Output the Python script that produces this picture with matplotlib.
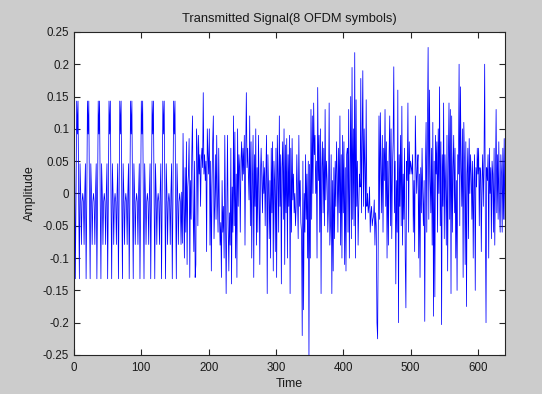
import numpy as np
import matplotlib
matplotlib.use("Agg")
import matplotlib.pyplot as plt

plt.rcParams['font.family'] = ['Liberation Sans', 'DejaVu Sans']

# Preamble: 2 symbols (160 samples), 16-sample repeating pattern
sts_block = [0.046, -0.132, -0.013, 0.143, 0.092, 0.143, -0.013, -0.132,
             0.046, 0.002, -0.079, -0.013, 0.000, -0.013, -0.079, 0.002]
preamble = sts_block * 10

# Data symbols (80 samples each)
sym3 = [-0.077, 0.093, -0.02, -0.1, 0.04, -0.06, 0.08, -0.11, 0.01, 0.03,
        0.085, -0.13, 0.02, -0.04, 0.06, 0.12, -0.03, -0.09, 0.05, -0.13,
        -0.11, 0.1, 0.07, -0.05, 0.09, 0.03, 0.06, -0.02, 0.05, 0.07,
        0.04, 0.156, 0.03, 0.06, 0.02, 0.05, -0.09, 0.1, 0.06, 0.03,
        0.1, -0.08, 0.05, -0.12, 0.01, 0.08, 0.12, -0.07, -0.02, 0.06,
        -0.04, 0.09, -0.01, -0.06, 0.07, -0.03, -0.08, -0.045, -0.13, 0.02,
        -0.06, -0.02, -0.1, 0.09, -0.04, -0.155, -0.03, 0.09, -0.05, -0.12,
        -0.03, -0.08, 0.07, -0.14, 0.01, -0.06, 0.12, -0.05, 0.095, -0.1]
sym4 = [0.03, -0.13, 0.1, -0.02, 0.06, 0.04, -0.06, 0.05, 0.08, 0.02,
        0.07, 0.03, 0.09, -0.08, 0.06, 0.156, 0.04, 0.07, 0.03, -0.01,
        0.12, -0.05, 0.08, -0.1, 0.02, 0.09, -0.13, 0.06, -0.02, 0.1,
        -0.08, 0.04, -0.06, 0.09, 0.01, -0.11, 0.03, 0.07, 0.02, -0.03,
        0.05, 0.0, 0.04, -0.05, 0.03, 0.09, -0.155, 0.06, 0.01, -0.07,
        0.02, -0.1, 0.07, -0.03, 0.08, -0.12, 0.05, 0.02, -0.09, 0.07,
        -0.13, 0.09, 0.03, -0.06, 0.12, -0.02, 0.06, -0.14, 0.04, 0.08,
        -0.04, 0.1, -0.11, 0.075, -0.03, 0.085, -0.1, 0.06, -0.02, 0.09]
sym5 = [-0.155, 0.07, -0.06, 0.085, -0.01, 0.03, -0.03, 0.0, -0.05, -0.02,
        0.06, -0.01, -0.07, 0.09, -0.02, 0.02, -0.045, -0.06, -0.22, 0.05,
        -0.18, 0.0, -0.06, 0.06, -0.04, 0.03, -0.1, 0.05, -0.26, 0.045,
        -0.1, 0.13, -0.04, 0.12, 0.0, 0.14, 0.06, 0.09, 0.0, 0.05,
        -0.1, 0.164, 0.02, 0.09, -0.06, 0.1, -0.155, 0.04, 0.08, -0.03,
        0.07, -0.05, 0.13, -0.01, 0.05, 0.02, -0.06, -0.02, 0.14, -0.08,
        -0.05, 0.06, -0.155, 0.02, -0.12, 0.04, -0.07, 0.05, -0.02, 0.08,
        0.03, -0.06, 0.07, -0.03, 0.12, -0.08, 0.06, -0.1, 0.09, -0.03]
sym6 = [0.08, -0.11, 0.04, -0.12, 0.06, 0.07, -0.06, 0.13, -0.1, 0.02,
        0.15, -0.07, 0.195, -0.04, 0.1, -0.05, 0.218, -0.1, 0.145, -0.02,
        0.05, -0.08, -0.02, 0.03, 0.01, 0.178, -0.03, 0.08, 0.19, -0.02,
        0.1, 0.04, -0.04, 0.145, -0.02, 0.0, -0.03, -0.02, 0.01, -0.06,
        -0.03, -0.02, -0.05, -0.04, -0.035, -0.01, -0.08, -0.03, -0.05, -0.2,
        -0.225, -0.06, 0.12, -0.04, 0.125, 0.04, -0.03, 0.09, -0.06, 0.07,
        0.02, 0.13, -0.02, 0.08, -0.1, 0.05, -0.08, 0.06, 0.12, -0.05,
        0.1, -0.07, 0.04, 0.08, 0.196, -0.03, 0.05, -0.14, 0.02, -0.06]
sym7 = [0.16, -0.2, 0.06, -0.02, 0.09, -0.05, 0.135, -0.08, 0.03, -0.04,
        0.07, -0.1, -0.177, 0.05, 0.02, 0.14, -0.06, 0.08, 0.03, 0.05,
        0.04, 0.03, 0.06, -0.06, 0.02, -0.09, 0.12, 0.05, 0.0, 0.04,
        0.06, -0.1, 0.03, -0.13, 0.04, -0.03, 0.07, 0.0, -0.05, 0.02,
        -0.198, 0.04, 0.11, -0.06, 0.1, 0.226, -0.04, 0.16, 0.02, -0.03,
        0.07, -0.08, 0.11, -0.19, 0.05, -0.16, 0.09, 0.03, 0.08, -0.06,
        0.1, 0.0, 0.165, -0.05, 0.08, -0.203, 0.06, -0.02, 0.14, -0.07,
        0.06, 0.01, -0.08, 0.09, -0.12, 0.05, 0.14, -0.04, 0.13, -0.155]
sym8 = [0.12, -0.06, 0.04, 0.09, -0.03, 0.07, -0.1, 0.02, -0.15, 0.06,
        0.03, 0.2, -0.05, 0.165, 0.04, -0.02, 0.1, -0.13, 0.11, 0.05,
        -0.11, 0.08, -0.175, 0.03, 0.07, -0.07, 0.085, 0.0, 0.06, 0.03,
        -0.04, 0.05, -0.1, 0.02, 0.06, -0.15, 0.04, 0.01, 0.07, 0.03,
        0.07, -0.05, 0.04, 0.03, -0.09, 0.02, 0.06, -0.02, 0.05, 0.2,
        -0.04, -0.2, 0.04, 0.02, 0.06, -0.1, 0.07, 0.0, 0.04, -0.07,
        0.05, 0.03, -0.06, 0.07, -0.08, 0.02, 0.13, -0.03, 0.06, -0.04,
        0.08, -0.02, -0.06, 0.06, 0.03, -0.06, 0.07, -0.04, 0.085, -0.04]

signal = np.array(preamble + sym3 + sym4 + sym5 + sym6 + sym7 + sym8)
t = np.arange(1, len(signal) + 1)

fig = plt.figure(figsize=(5.42, 3.94), dpi=100, facecolor='#cccccc')
ax = fig.add_axes([0.1365, 0.099, 0.795, 0.82])
ax.set_facecolor('white')

ax.plot(t, signal, color='#0000ff', linewidth=0.55)

ax.set_xlim(0, 640)
ax.set_ylim(-0.25, 0.25)
ax.set_xticks(np.arange(0, 601, 100))
ax.set_yticks(np.arange(-0.25, 0.251, 0.05))
ax.set_yticklabels(['-0.25', '-0.2', '-0.15', '-0.1', '-0.05', '0',
                    '0.05', '0.1', '0.15', '0.2', '0.25'])
ax.tick_params(direction='in', length=4, width=0.8, labelsize=8.3,
               top=True, right=True, colors='#262626', labelcolor='#1a1a1a')
ax.tick_params(axis='x', pad=5)
for s in ax.spines.values():
    s.set_color('#262626')
    s.set_linewidth(0.8)

ax.set_title('Transmitted Signal(8 OFDM symbols)', fontsize=9.3, pad=7, color='#1a1a1a')
ax.set_xlabel('Time', fontsize=9, labelpad=3, color='#1a1a1a')
ax.set_ylabel('Amplitude', fontsize=9, labelpad=5, color='#1a1a1a')

fig.savefig('out.png', dpi=100, facecolor=fig.get_facecolor())
